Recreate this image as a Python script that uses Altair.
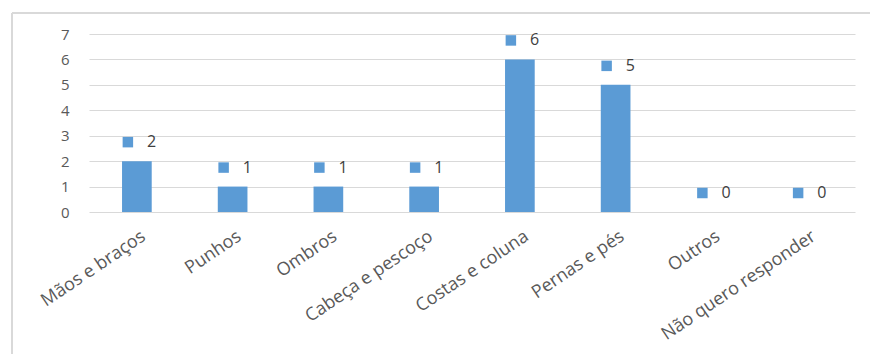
import altair as alt
import pandas as pd

categories = ["Mãos e braços", "Punhos", "Ombros", "Cabeça e pescoço",
              "Costas e coluna", "Pernas e pés", "Outros", "Não quero responder"]
values = [2, 1, 1, 1, 6, 5, 0, 0]
y_ticks = [0, 1, 2, 3, 4, 5, 6, 7]

df = pd.DataFrame({"cat": categories, "val": values})

BLUE = "#5b9bd5"
GRID = "#d9d9d9"
FONT = "Open Sans"

x = alt.X("cat:N", sort=categories, title=None,
          scale=alt.Scale(paddingInner=0.69, paddingOuter=0.345),
          axis=alt.Axis(labelAngle=-34, labelAlign="right", labelBaseline="top",
                        labelPadding=15, labelOffset=2, labelFontSize=18,
                        labelColor="#595959", labelFont=FONT, labelLimit=300,
                        ticks=False, domain=False, grid=False))
y = alt.Y("val:Q", title=None,
          scale=alt.Scale(domain=[0, 7], nice=False),
          axis=alt.Axis(values=y_ticks, labelFontSize=15, labelColor="#595959",
                        labelFont=FONT, ticks=False, domain=False, grid=True,
                        labelOverlap=False, gridColor=GRID, labelPadding=20))

base = alt.Chart(df)
bars = base.mark_bar(color=BLUE).encode(x=x, y=y)
squares = base.mark_square(color=BLUE, size=110, opacity=1, xOffset=-9, yOffset=-19).encode(
    x=x, y=y)
texts = base.mark_text(align="left", baseline="middle", dx=10, dy=-19,
                       fontSize=16, color="#404040", font=FONT).encode(
    x=x, y=y, text="val:Q")

frame_top = alt.Chart(df).mark_rule(color=GRID, strokeWidth=2).encode(
    x=alt.value(-77), x2=alt.value(800), y=alt.value(-21))
frame_left = alt.Chart(df).mark_rule(color=GRID, strokeWidth=2).encode(
    x=alt.value(-77), y=alt.value(-21), y2=alt.value(330))

chart = alt.layer(frame_top, frame_left, bars, squares, texts).properties(
    width=766, height=178,
    padding={"left": 89, "top": 34, "right": 15, "bottom": 142},
    autosize=alt.AutoSizeParams(type="none"),
    background="white",
).configure_view(stroke=None)

chart.save("out.html", embed_options={"renderer": "svg", "actions": False})
